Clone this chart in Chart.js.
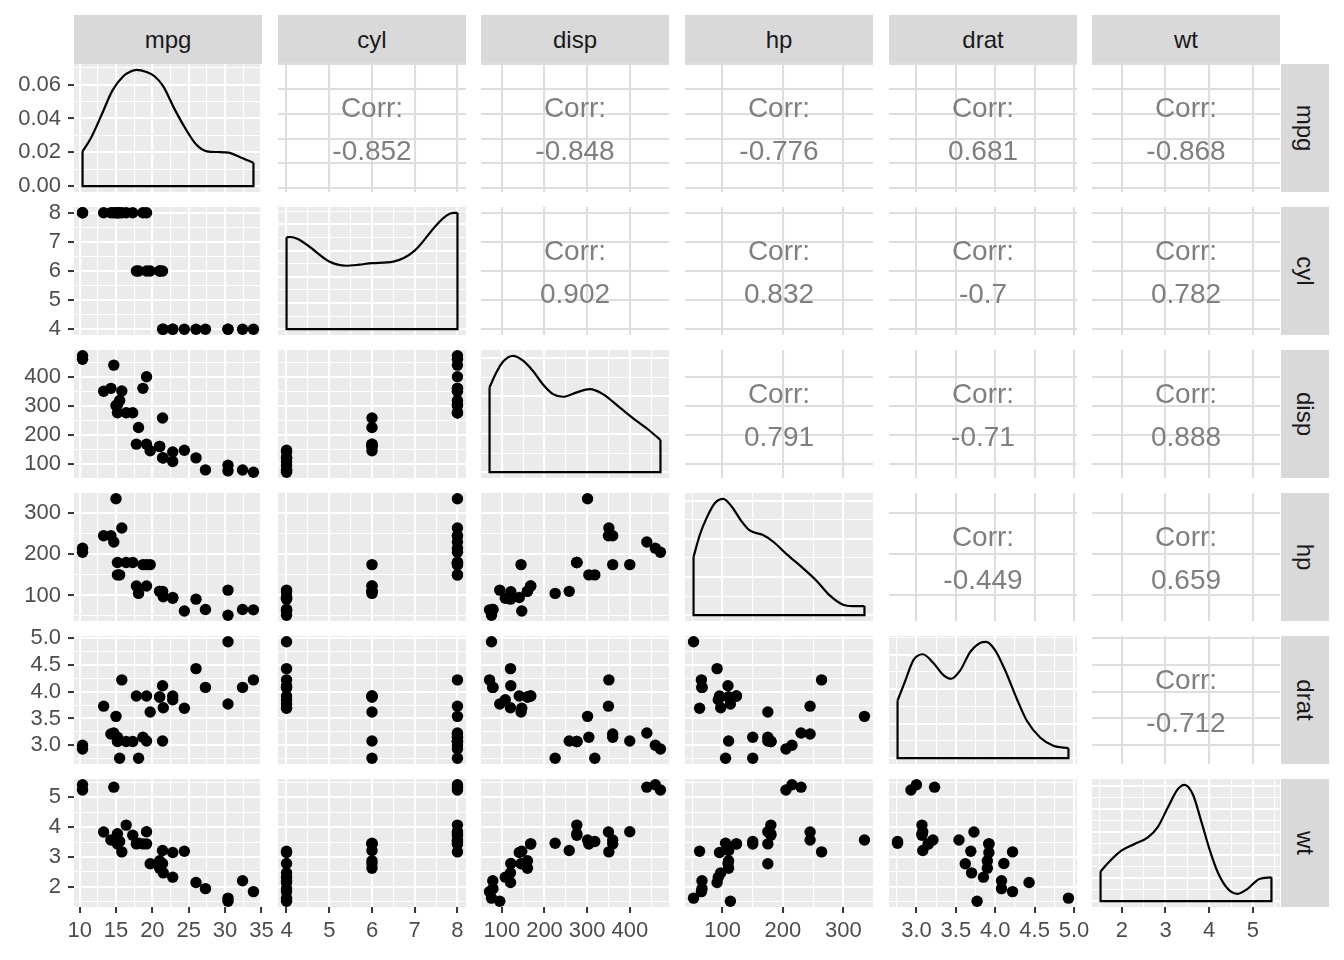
<!DOCTYPE html>
<html>
<head>
<meta charset="utf-8">
<script src="https://cdn.jsdelivr.net/npm/chart.js@4.4.1/dist/chart.umd.min.js"></script>
<style>
html, body { margin: 0; padding: 0; background: #fff; }
#wrap { position: relative; width: 1344px; height: 960px; overflow: hidden; font-family: "Liberation Sans", Arial, sans-serif; }
#wrap canvas { position: absolute; }
.strip { position: absolute; background: #D9D9D9; color: #1A1A1A; font-size: 24px; display: flex; align-items: center; justify-content: center; }
.strip.side span { display: inline-block; transform: rotate(90deg); white-space: nowrap; }
</style>
</head>
<body>
<div id="wrap"></div>
<script>
// mtcars columns
const varNames = ['mpg', 'cyl', 'disp', 'hp', 'drat', 'wt'];
const mpg = [21, 21, 22.8, 21.4, 18.7, 18.1, 14.3, 24.4, 22.8, 19.2, 17.8, 16.4, 17.3, 15.2, 10.4, 10.4, 14.7, 32.4, 30.4, 33.9, 21.5, 15.5, 15.2, 13.3, 19.2, 27.3, 26, 30.4, 15.8, 19.7, 15, 21.4];
const cyl = [6, 6, 4, 6, 8, 6, 8, 4, 4, 6, 6, 8, 8, 8, 8, 8, 8, 4, 4, 4, 4, 8, 8, 8, 8, 4, 4, 4, 8, 6, 8, 4];
const disp = [160, 160, 108, 258, 360, 225, 360, 146.7, 140.8, 167.6, 167.6, 275.8, 275.8, 275.8, 472, 460, 440, 78.7, 75.7, 71.1, 120.1, 318, 304, 350, 400, 79, 120.3, 95.1, 351, 145, 301, 121];
const hp = [110, 110, 93, 110, 175, 105, 245, 62, 95, 123, 123, 180, 180, 180, 205, 215, 230, 66, 52, 65, 97, 150, 150, 245, 175, 66, 91, 113, 264, 175, 335, 109];
const drat = [3.9, 3.9, 3.85, 3.08, 3.15, 2.76, 3.21, 3.69, 3.92, 3.92, 3.92, 3.07, 3.07, 3.07, 2.93, 3, 3.23, 4.08, 4.93, 4.22, 3.7, 2.76, 3.15, 3.73, 3.08, 4.08, 4.43, 3.77, 4.22, 3.62, 3.54, 4.11];
const wt = [2.62, 2.875, 2.32, 3.215, 3.44, 3.46, 3.57, 3.19, 3.15, 3.44, 3.44, 4.07, 3.73, 3.78, 5.25, 5.424, 5.345, 2.2, 1.615, 1.835, 2.465, 3.52, 3.435, 3.84, 3.845, 1.935, 2.14, 1.513, 3.17, 2.77, 3.57, 2.78];

// density curves
const mpgDensX = [10.4, 11.5, 13, 14.5, 16, 17, 17.8, 19.2, 20.3, 21.5, 23, 24.5, 26, 27.5, 29, 30.5, 32, 33.9];
const mpgDensY = [0.0206, 0.028, 0.042, 0.0565, 0.065, 0.0678, 0.0688, 0.0675, 0.065, 0.059, 0.046, 0.0344, 0.0248, 0.0206, 0.0202, 0.0198, 0.0173, 0.0138];
const cylDensX = [4, 4.1, 4.25, 4.5, 5, 5.4, 5.7, 6, 6.5, 7, 7.5, 7.75, 7.9, 8];
const cylDensY = [0.1755, 0.1759, 0.1726, 0.1596, 0.129, 0.121, 0.123, 0.126, 0.129, 0.150, 0.198, 0.217, 0.222, 0.222];
const dispDensX = [71.1, 87, 103, 126, 149, 173, 196, 220, 243, 274, 306, 337, 376, 415, 446, 472];
const dispDensY = [0.00224, 0.00263, 0.00292, 0.00307, 0.00295, 0.00267, 0.00232, 0.00206, 0.00199, 0.0021, 0.00219, 0.00206, 0.00171, 0.00136, 0.0011, 0.00085];
const hpDensX = [52, 62.6, 73.7, 87.4, 101, 115, 131.5, 145, 167, 184, 206, 233, 255.5, 277.5, 299.5, 316, 335];
const hpDensY = [0.00306, 0.00423, 0.0051, 0.00588, 0.0061, 0.0057, 0.00492, 0.00444, 0.0042, 0.00385, 0.0032, 0.00247, 0.00181, 0.00104, 0.00055, 0.00048, 0.00048];
const dratDensX = [2.76, 2.86, 2.96, 3.08, 3.22, 3.345, 3.44, 3.556, 3.683, 3.81, 3.885, 4.0, 4.126, 4.274, 4.4, 4.57, 4.738, 4.93];
const dratDensY = [0.334, 0.451, 0.567, 0.602, 0.548, 0.48, 0.46, 0.509, 0.616, 0.668, 0.674, 0.625, 0.509, 0.344, 0.218, 0.12, 0.072, 0.058];
const wtDensX = [1.513, 1.722, 1.989, 2.292, 2.596, 2.825, 3.053, 3.281, 3.434, 3.624, 3.815, 4.005, 4.195, 4.423, 4.651, 4.879, 5.146, 5.424];
const wtDensY = [0.130, 0.174, 0.22, 0.249, 0.278, 0.324, 0.408, 0.488, 0.507, 0.466, 0.35, 0.227, 0.126, 0.054, 0.032, 0.054, 0.097, 0.104];

// axis breaks
const mpgTicks = [10, 15, 20, 25, 30, 35], mpgMinor = [12.5, 17.5, 22.5, 27.5, 32.5];
const cylTicks = [4, 5, 6, 7, 8], cylMinor = [4.5, 5.5, 6.5, 7.5];
const dispTicks = [100, 200, 300, 400], dispMinor = [150, 250, 350, 450];
const hpTicks = [100, 200, 300], hpMinor = [50, 150, 250];
const dratTicks = [3.0, 3.5, 4.0, 4.5, 5.0], dratMinor = [2.75, 3.25, 3.75, 4.25, 4.75];
const wtTicks = [2, 3, 4, 5], wtMinor = [1.5, 2.5, 3.5, 4.5, 5.5];

const mpgDensTicks = [0, 0.02, 0.04, 0.06], mpgDensMinor = [0.01, 0.03, 0.05, 0.07];
const cylDensTicks = [0, 0.05, 0.1, 0.15, 0.2], cylDensMinor = [0.025, 0.075, 0.125, 0.175, 0.225];
const dispDensTicks = [0, 0.001, 0.002, 0.003], dispDensMinor = [0.0005, 0.0015, 0.0025];
const hpDensTicks = [0, 0.002, 0.004, 0.006], hpDensMinor = [0.001, 0.003, 0.005];
const dratDensTicks = [0, 0.2, 0.4, 0.6], dratDensMinor = [0.1, 0.3, 0.5, 0.7];
const wtDensTicks = [0, 0.1, 0.2, 0.3, 0.4, 0.5], wtDensMinor = [0.05, 0.15, 0.25, 0.35, 0.45];

// correlation labels, upper triangle row by row
const corrLabels = [
  ['-0.852', '-0.848', '-0.776', '0.681', '-0.868'],
  ['0.902', '0.832', '-0.7', '0.782'],
  ['0.791', '-0.71', '0.888'],
  ['-0.449', '0.659'],
  ['-0.712']
];

const columns = [mpg, cyl, disp, hp, drat, wt];
const majors = [mpgTicks, cylTicks, dispTicks, hpTicks, dratTicks, wtTicks];
const minors = [mpgMinor, cylMinor, dispMinor, hpMinor, dratMinor, wtMinor];
const densX = [mpgDensX, cylDensX, dispDensX, hpDensX, dratDensX, wtDensX];
const densY = [mpgDensY, cylDensY, dispDensY, hpDensY, dratDensY, wtDensY];
const densMajors = [mpgDensTicks, cylDensTicks, dispDensTicks, hpDensTicks, dratDensTicks, wtDensTicks];
const densMinors = [mpgDensMinor, cylDensMinor, dispDensMinor, hpDensMinor, dratDensMinor, wtDensMinor];
const labelFmt = [v => String(v), v => String(v), v => String(v), v => String(v), v => v.toFixed(1), v => String(v)];

// layout
const W = 188, H = 128, MARGIN = 14;
const colLeft = [74, 278, 481, 685, 889, 1092];
const rowTop = [64, 207, 350, 493, 636, 779];
const FONT = '"Liberation Sans", Arial, sans-serif';

function expandRange(a) {
  const lo = Math.min(...a), hi = Math.max(...a), e = (hi - lo) * 0.05;
  return [lo - e, hi + e];
}

function tickList(mj, mn) {
  return mj.map(v => ({ value: v, mj: true })).concat(mn.map(v => ({ value: v, mj: false })))
    .sort((a, b) => a.value - b.value);
}

const panelBg = {
  id: 'panelBg',
  beforeDraw(chart, args, opts) {
    if (!opts.color) return;
    const a = chart.chartArea, ctx = chart.ctx;
    ctx.save();
    ctx.fillStyle = opts.color;
    ctx.fillRect(a.left, a.top, a.right - a.left, a.bottom - a.top);
    ctx.restore();
  }
};

const corrText = {
  id: 'corrText',
  afterDraw(chart, args, opts) {
    if (!opts.value) return;
    const a = chart.chartArea, ctx = chart.ctx;
    const cx = (a.left + a.right) / 2, cy = (a.top + a.bottom) / 2;
    ctx.save();
    ctx.fillStyle = '#7F7F7F';
    ctx.font = '28px ' + FONT;
    ctx.textAlign = 'center';
    ctx.textBaseline = 'middle';
    ctx.fillText('Corr:', cx, cy - 19);
    ctx.fillText(opts.value, cx, cy + 24);
    ctx.restore();
  }
};

function axis(isX, range, ticks, showLabels, fmt, size, corr) {
  return {
    type: 'linear',
    position: isX ? 'bottom' : 'left',
    min: range[0],
    max: range[1],
    bounds: 'data',
    border: { display: false },
    afterBuildTicks: s => { s.ticks = ticks.map(t => ({ value: t.value, mj: t.mj })); },
    afterFit: s => {
      if (isX) s.height = size; else s.width = size;
      // labels may overhang the panel; keep the plot area fixed
      s.paddingTop = 0; s.paddingBottom = 0; s.paddingLeft = 0; s.paddingRight = 0;
    },
    grid: {
      color: corr ? '#DEDEDE' : '#FFFFFF',
      lineWidth: c => (c.tick && c.tick.mj) ? 2.1 : 1.1,
      drawTicks: showLabels,
      tickLength: 6,
      tickWidth: 2,
      tickColor: c => (c.tick && c.tick.mj) ? '#333333' : 'rgba(0,0,0,0)'
    },
    ticks: {
      display: showLabels,
      autoSkip: false,
      maxRotation: 0,
      minRotation: 0,
      padding: isX ? 5 : 7,
      color: '#4D4D4D',
      font: { family: FONT, size: 22 },
      callback: (v, i, ts) => (ts[i] && ts[i].mj) ? fmt(v) : ''
    }
  };
}

function makePanel(r, c) {
  const wrap = document.getElementById('wrap');
  const left = c === 0 ? 0 : colLeft[c] - MARGIN;
  const top = rowTop[r] - MARGIN;
  const right = colLeft[c] + W + MARGIN;
  const bottom = r === 5 ? 960 : rowTop[r] + H + MARGIN;
  const cv = document.createElement('canvas');
  cv.width = right - left;
  cv.height = bottom - top;
  cv.style.left = left + 'px';
  cv.style.top = top + 'px';
  wrap.appendChild(cv);

  const isCorr = r < c, isDiag = r === c;
  const xRange = expandRange(columns[c]);
  let yRange, yTicks, yFmt;
  if (isDiag) {
    const m = Math.max(...densY[c]);
    yRange = [-0.05 * m, 1.05 * m];
    yTicks = tickList(densMajors[c], densMinors[c]);
    yFmt = v => v.toFixed(2);
  } else {
    yRange = expandRange(columns[r]);
    yTicks = isCorr ? tickList(majors[r], []) : tickList(majors[r], minors[r]);
    yFmt = labelFmt[r];
  }
  const xTicks = isCorr ? tickList(majors[c], []) : tickList(majors[c], minors[c]);

  let datasets = [];
  if (isDiag) {
    const xs = densX[c], ys = densY[c], n = xs.length;
    datasets.push({
      data: xs.map((x, i) => ({ x: x, y: ys[i] })),
      showLine: true, pointRadius: 0, borderColor: '#000', borderWidth: 2.2,
      cubicInterpolationMode: 'monotone', fill: false
    });
    datasets.push({
      data: [{ x: xs[0], y: ys[0] }, { x: xs[0], y: 0 }, { x: xs[n - 1], y: 0 }, { x: xs[n - 1], y: ys[n - 1] }],
      showLine: true, pointRadius: 0, borderColor: '#000', borderWidth: 2.2, tension: 0,
      borderJoinStyle: 'miter', fill: false
    });
  } else if (!isCorr) {
    const xv = columns[c], yv = columns[r];
    datasets.push({
      data: xv.map((x, i) => ({ x: x, y: yv[i] })),
      pointRadius: 5.7, pointBackgroundColor: '#000', pointBorderWidth: 0, showLine: false
    });
  }

  new Chart(cv, {
    type: 'scatter',
    data: { datasets: datasets },
    plugins: [panelBg, corrText],
    options: {
      responsive: false,
      animation: false,
      devicePixelRatio: 1,
      events: [],
      layout: {
        autoPadding: false,
        padding: { left: c === 0 ? 0 : MARGIN, right: MARGIN, top: MARGIN, bottom: r === 5 ? 0 : MARGIN }
      },
      scales: {
        x: axis(true, xRange, xTicks, r === 5, labelFmt[c], r === 5 ? 960 - (rowTop[5] + H) : 0, isCorr),
        y: axis(false, yRange, yTicks, c === 0, yFmt, c === 0 ? colLeft[0] : 0, isCorr)
      },
      plugins: {
        legend: { display: false },
        tooltip: { enabled: false },
        panelBg: { color: isCorr ? null : '#EBEBEB' },
        corrText: { value: isCorr ? corrLabels[r][c - r - 1] : null }
      }
    }
  });
}

function makeStrips() {
  const wrap = document.getElementById('wrap');
  varNames.forEach((name, i) => {
    const top = document.createElement('div');
    top.className = 'strip';
    top.style.left = colLeft[i] + 'px';
    top.style.top = '15px';
    top.style.width = W + 'px';
    top.style.height = '49px';
    top.textContent = name;
    wrap.appendChild(top);

    const side = document.createElement('div');
    side.className = 'strip side';
    side.style.left = (colLeft[5] + W + 1) + 'px';
    side.style.top = rowTop[i] + 'px';
    side.style.width = '48px';
    side.style.height = H + 'px';
    const span = document.createElement('span');
    span.textContent = name;
    side.appendChild(span);
    wrap.appendChild(side);
  });
}

makeStrips();
for (let r = 0; r < 6; r++) {
  for (let c = 0; c < 6; c++) {
    makePanel(r, c);
  }
}
</script>
</body>
</html>
